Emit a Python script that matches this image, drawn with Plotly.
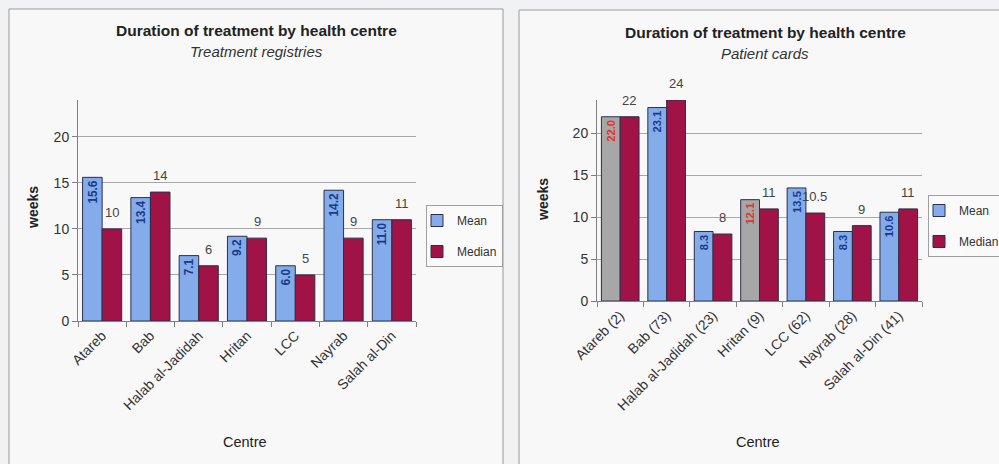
import plotly.graph_objects as go

# ---------------- data ----------------
centres = ["Atareb", "Bab", "Halab al-Jadidah", "Hritan", "LCC", "Nayrab", "Salah al-Din"]
card_counts = [2, 73, 23, 9, 62, 28, 41]

reg_mean = [15.6, 13.4, 7.1, 9.2, 6.0, 14.2, 11.0]
reg_median = [10, 14, 6, 9, 5, 9, 11]

card_mean = [22.0, 23.1, 8.3, 12.1, 13.5, 8.3, 10.6]
card_median = [22, 24, 8, 11, 10.5, 9, 11]
card_low_n = [True, False, False, True, False, False, False]  # small samples drawn grey

y_ticks = [0, 5, 10, 15, 20]
title_main = "Duration of treatment by health centre"
subtitle_left = "Treatment registries"
subtitle_right = "Patient cards"
y_title = "weeks"
x_title = "Centre"

card_labels = [f"{c} ({n})" for c, n in zip(centres, card_counts)]

# ---------------- styling ----------------
W, H = 999, 464
FONT = "Arial, Liberation Sans, sans-serif"
BLUE = "#84ACEA"
CRIMSON = "#A11246"
GREY = "#A7A7A7"
OUTLINE = "#2E2E4A"
NAVY = "#1B3A8A"
RED_TXT = "#E2342C"
GRID = "#A8A8A8"
TXT = "#333333"


def px(x):
    return x / W


def py(y):
    return 1 - y / H


fig = go.Figure()

mean_font = dict(size=14, family=FONT, weight="bold")

# ---- left: treatment registries ----
fig.add_trace(go.Bar(
    x=centres, y=reg_mean, name="Mean", offsetgroup="m", legendgroup="m",
    marker=dict(color=BLUE, line=dict(color=OUTLINE, width=1)),
    texttemplate="%{y:.1f}", textposition="inside", insidetextanchor="end",
    textangle=-90, textfont=dict(color=NAVY, **mean_font),
    xaxis="x", yaxis="y", legend="legend",
))
fig.add_trace(go.Bar(
    x=centres, y=reg_median, name="Median", offsetgroup="md", legendgroup="md",
    marker=dict(color=CRIMSON, line=dict(color=OUTLINE, width=1)),
    xaxis="x", yaxis="y", legend="legend",
))

# ---- right: patient cards ----
mean_normal = [None if f else v for v, f in zip(card_mean, card_low_n)]
mean_low = [v if f else None for v, f in zip(card_mean, card_low_n)]
fig.add_trace(go.Bar(
    x=card_labels, y=mean_normal, name="Mean", offsetgroup="m", legendgroup="m",
    marker=dict(color=BLUE, line=dict(color=OUTLINE, width=1)),
    texttemplate="%{y:.1f}", textposition="inside", insidetextanchor="end",
    textangle=-90, textfont=dict(color=NAVY, **mean_font),
    xaxis="x2", yaxis="y2", legend="legend2",
))
fig.add_trace(go.Bar(
    x=card_labels, y=mean_low, name="Mean (small n)", offsetgroup="m", showlegend=False,
    marker=dict(color=GREY, line=dict(color=OUTLINE, width=1)),
    texttemplate="%{y:.1f}", textposition="inside", insidetextanchor="end",
    textangle=-90, textfont=dict(color=RED_TXT, **mean_font),
    xaxis="x2", yaxis="y2",
))
fig.add_trace(go.Bar(
    x=card_labels, y=card_median, name="Median", offsetgroup="md", legendgroup="md",
    marker=dict(color=CRIMSON, line=dict(color=OUTLINE, width=1)),
    xaxis="x2", yaxis="y2", legend="legend2",
))

annotations = []
# median value labels above bars
for cats, vals, xr, yr, xs in [(centres, reg_median, "x", "y", 10), (card_labels, card_median, "x2", "y2", 9)]:
    for c, v in zip(cats, vals):
        annotations.append(dict(
            x=c, y=v, xref=xr, yref=yr, text=f"{v:g}", showarrow=False,
            xanchor="center", yanchor="bottom", yshift=7, xshift=xs,
            font=dict(size=13, color="#444444", family=FONT),
        ))

# titles
for cx, ty, sub in [(256, 31, subtitle_left), (765, 33, subtitle_right)]:
    annotations.append(dict(x=px(cx), y=py(ty), xref="paper", yref="paper", text=f"<b>{title_main}</b>",
                            showarrow=False, xanchor="center", yanchor="middle",
                            font=dict(size=15.5, color="#222222", family=FONT)))
    annotations.append(dict(x=px(cx), y=py(ty + 20), xref="paper", yref="paper", text=f"<i>{sub}</i>",
                            showarrow=False, xanchor="center", yanchor="middle",
                            font=dict(size=15, color="#333333", family=FONT)))

# axis titles
for cx, cy in [(33, 208), (543, 200)]:
    annotations.append(dict(x=px(cx), y=py(cy), xref="paper", yref="paper", text=f"<b>{y_title}</b>",
                            showarrow=False, textangle=-90, xanchor="center", yanchor="middle",
                            font=dict(size=14, color="#222222", family=FONT)))
for cx, cy in [(245, 442), (758, 442)]:
    annotations.append(dict(x=px(cx), y=py(cy), xref="paper", yref="paper", text=x_title,
                            showarrow=False, xanchor="center", yanchor="middle",
                            font=dict(size=14.5, color="#222222", family=FONT)))

shapes = [
    dict(type="rect", xref="paper", yref="paper", x0=px(9), x1=px(503), y0=py(470), y1=py(9),
         line=dict(color="#9A9A9A", width=1), fillcolor="#F8F8F8", layer="below"),
    dict(type="rect", xref="paper", yref="paper", x0=px(519), x1=px(1010), y0=py(470), y1=py(10),
         line=dict(color="#9A9A9A", width=1), fillcolor="#F8F8F8", layer="below"),
]

xaxis_common = dict(
    type="category", showline=True, linecolor="#808080", linewidth=1,
    ticks="outside", tickson="boundaries", ticklen=5, tickcolor="#808080",
    tickangle=-45, tickfont=dict(size=14, color=TXT, family=FONT), showgrid=False,
    fixedrange=True, automargin=False,
)
yaxis_common = dict(
    range=[0, 24], tickvals=y_ticks, showline=True, linecolor="#808080", linewidth=1,
    ticks="outside", ticklen=5, tickcolor="#808080", showgrid=True, gridcolor=GRID, gridwidth=1,
    zeroline=False, tickfont=dict(size=14, color=TXT, family=FONT), fixedrange=True,
    automargin=False,
)

legend_common = dict(
    bgcolor="#FAFAFA", bordercolor="#A0A0A0", borderwidth=1,
    font=dict(size=12, color=TXT, family=FONT), traceorder="grouped",
    tracegroupgap=12, itemwidth=30, indentation=-10, xanchor="left", yanchor="top",
)

fig.update_layout(
    width=W, height=H, margin=dict(l=0, r=0, t=0, b=0, autoexpand=False),
    paper_bgcolor="#F1F2F3", plot_bgcolor="rgba(0,0,0,0)",
    barmode="group", bargap=0.19, bargroupgap=0.0,
    font=dict(family=FONT, color=TXT),
    xaxis=dict(domain=[px(78), px(416)], anchor="y", **xaxis_common),
    yaxis=dict(domain=[py(321), py(100)], anchor="x", **yaxis_common),
    xaxis2=dict(domain=[px(597), px(922)], anchor="y2", **xaxis_common),
    yaxis2=dict(domain=[py(301), py(100)], anchor="x2", **yaxis_common),
    legend=dict(x=px(426), y=py(205), **legend_common),
    legend2=dict(x=px(928), y=py(195), **legend_common),
    annotations=annotations, shapes=shapes, showlegend=True,
)

fig.write_html(
    "out.html",
    config={"displayModeBar": False},
    post_script="document.body.style.margin='0';document.body.style.overflow='hidden';",
)
